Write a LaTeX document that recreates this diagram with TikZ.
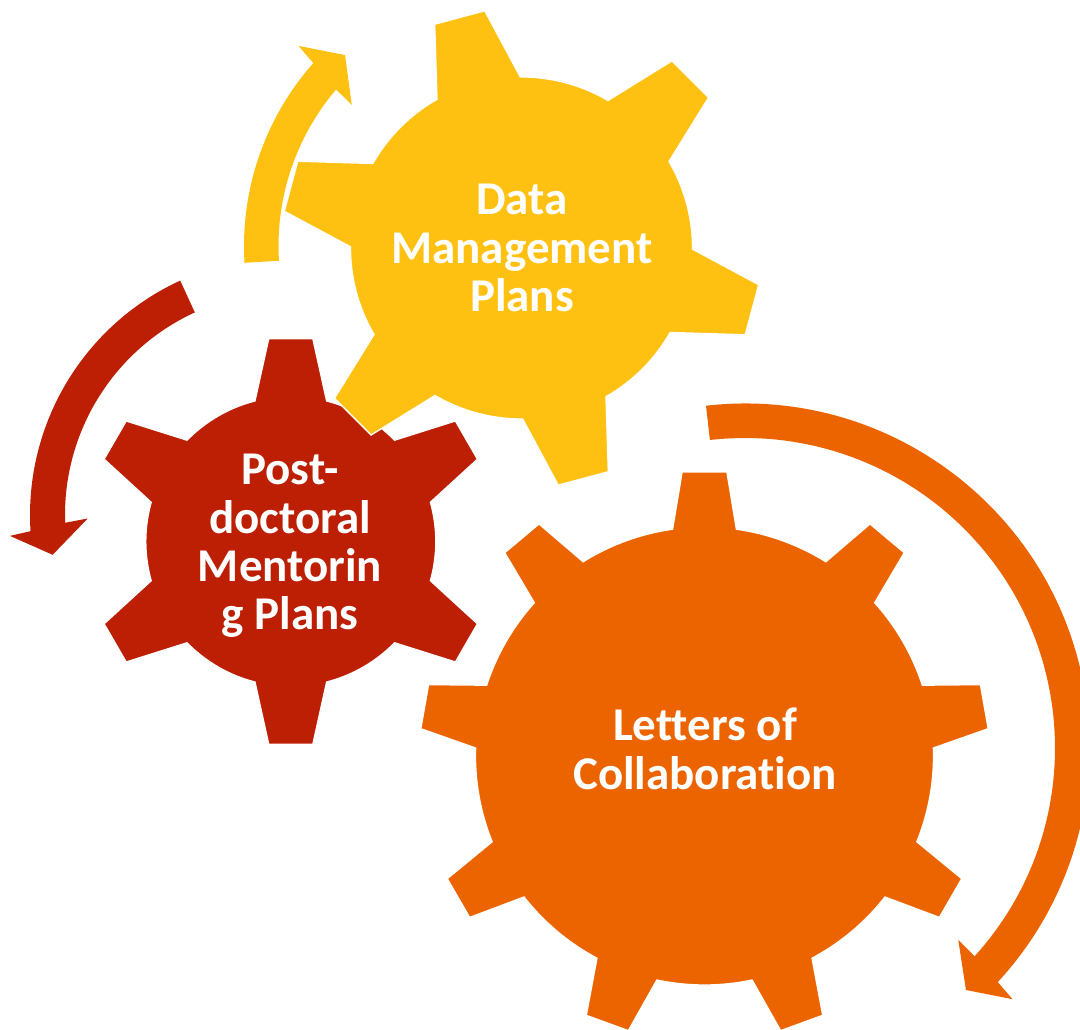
\documentclass[tikz,border=0pt]{standalone}
\usepackage{fontspec}
\setmainfont{Carlito}[Ligatures=NoCommon]
\definecolor{gyellow}{HTML}{FFC111}
\definecolor{gred}{HTML}{BC1F04}
\definecolor{gorange}{HTML}{EC6400}
\tikzset{
  gearshape/.style={fill=#1, draw=white, line width=1.3pt, line join=miter},
  arrowshape/.style={fill=#1, draw=none},
  gearlabel/.style={text=white, font=\bfseries\fontsize{47}{48.3}\selectfont, align=center, inner sep=0pt},
}
% #1 colour, #2 centre, #3 body radius, #4 tip radius, #5 half angle at base, #6 half angle at tip, #7 teeth, #8 first tooth angle
\newcommand{\mygear}[8]{%
  \begin{scope}[shift={#2}]
    \pgfmathsetmacro{\gstep}{360/#7}
    \pgfmathtruncatemacro{\glast}{#7-1}
    \path[gearshape=#1] ({#8-#5}:#3pt)
      \foreach \k in {0,...,\glast}{
        -- ({#8+\k*\gstep-#5}:#3pt) -- ({#8+\k*\gstep-#6}:#4pt)
        -- ({#8+\k*\gstep+#6}:#4pt) -- ({#8+\k*\gstep+#5}:#3pt)
        arc[start angle={#8+\k*\gstep+#5}, end angle={#8+(\k+1)*\gstep-#5}, radius=#3pt]
      } -- cycle;
  \end{scope}
}
\begin{document}
\begin{tikzpicture}[x=1pt,y=1pt]
\useasboundingbox (0,0) rectangle (1080,1030);
\clip (0,0) rectangle (1080,1030);

% circular arrows
\begin{scope}[shift={(520,784)}]
  \path[arrowshape=gyellow] (183.5:276pt) arc[start angle=183.5, end angle=138.5, radius=276pt]
    -- (137.9:298.5pt) -- (132.5:259pt) -- (140:219.6pt) -- (139.6:241.5pt)
    arc[start angle=139.6, end angle=183.5, radius=241.5pt] -- cycle;
\end{scope}
\begin{scope}[shift={(288,515)}]
  \path[arrowshape=gred] (114.7:258pt) arc[start angle=114.7, end angle=183.6, radius=258pt]
    -- (184.3:278.8pt) -- (189.6:238.7pt) -- (181:200.3pt) -- (182:223pt)
    arc[start angle=182, end angle=114.7, radius=223pt] -- cycle;
\end{scope}
\begin{scope}[shift={(745,282)}]
  \path[arrowshape=gorange] (96.5:344.5pt) arc[start angle=96.5, end angle=-42.8, radius=344.5pt]
    -- (-43.2:367pt) -- (-47.6:327.7pt) -- (-42:287pt) -- (-42.2:310pt)
    arc[start angle=-42.2, end angle=96.5, radius=310pt] -- cycle;
\end{scope}

% gears
\mygear{gred}{(290.8,488.5)}{145}{204}{14.3}{6.2}{6}{30}
\mygear{gorange}{(704.5,274)}{229}{285}{8}{4.5}{9}{10}
\mygear{gyellow}{(521.5,782)}{171}{240}{14.6}{6.2}{6}{45}

% labels
\node[gearlabel] (dmp) at (522,782) {Data\\Management\\Plans};
\node[gearlabel] (pdm) at (290,484) {Post-\\doctoral\\Mentorin\\g Plans};
\node[gearlabel] (loc) at (705,281) {Letters of\\Collaboration};
\end{tikzpicture}
\end{document}
